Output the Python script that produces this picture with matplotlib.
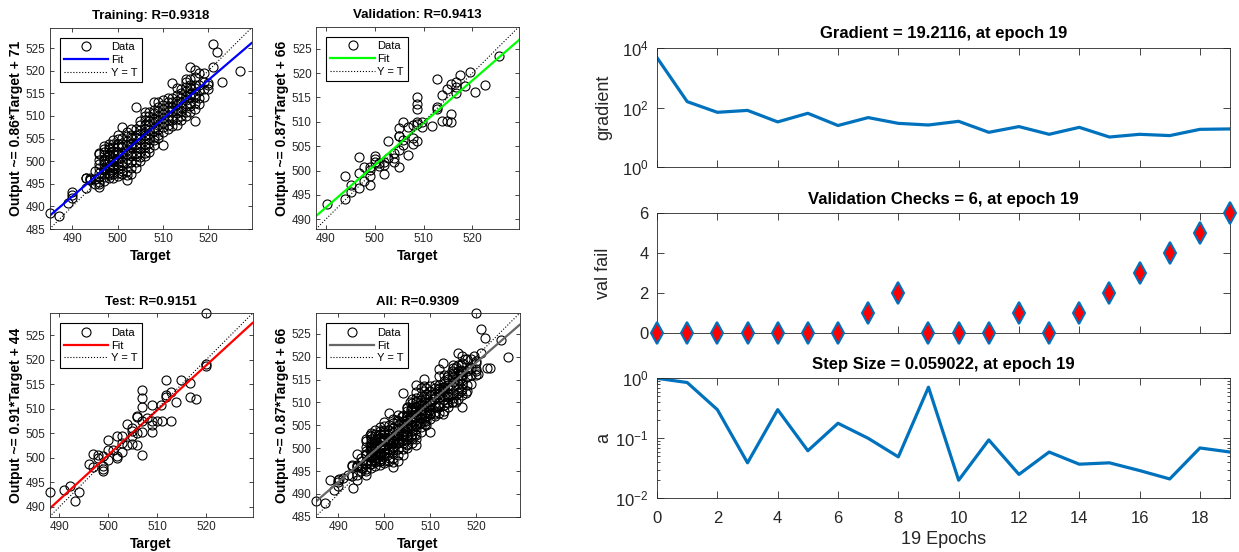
import numpy as np
import matplotlib
matplotlib.use('Agg')
import matplotlib.pyplot as plt
from matplotlib.ticker import LogLocator, NullFormatter, FixedLocator

plt.rcParams['font.family'] = ['Liberation Sans', 'DejaVu Sans']
plt.rcParams['mathtext.fontset'] = 'custom'
plt.rcParams['mathtext.rm'] = 'Liberation Sans'
plt.rcParams['mathtext.it'] = 'Liberation Sans:italic'
plt.rcParams['mathtext.bf'] = 'Liberation Sans:bold'

# ---- regression data ----
# training set: integer targets, outputs for each target
train_targets = [485, 487, 489, 490, 493, 494, 495, 496, 497, 498, 499, 500, 501, 502,
                 503, 504, 505, 506, 507, 508, 509, 510, 511, 512, 513, 514, 515, 516,
                 517, 518, 519, 520, 521, 522, 523, 527]
train_outputs = [
    [488.5],
    [487.9],
    [490.8],
    [491.8, 492.6, 493.1],
    [494.0, 496.2, 496.4],
    [495.8, 496.3, 496.0],
    [494.9, 496.1, 497.9],
    [494.2, 494.9, 495.4, 496.6, 497.3, 498.6, 499.4, 500.3, 501.6, 501.9],
    [495.7, 496.6, 497.1, 498.1, 498.5, 499.3, 500.1, 500.5, 501.4, 502.1, 502.7, 503.3],
    [496.2, 496.9, 497.4, 498.4, 498.9, 499.8, 500.3, 501.1, 501.7, 502.6, 503.1, 503.9],
    [496.4, 497.1, 497.7, 498.6, 499.1, 500.1, 500.7, 501.6, 502.2, 503.1, 503.8, 504.6],
    [496.7, 497.3, 498.3, 498.9, 499.9, 500.5, 501.5, 502.1, 503.1, 503.9, 504.9, 505.8],
    [497.1, 497.9, 499.1, 499.9, 501.1, 501.8, 503.1, 503.9, 505.1, 507.6],
    [495.8, 496.9, 497.9, 499.6, 500.4, 501.6, 502.4, 503.6, 504.4, 505.6, 506.4],
    [497.2, 498.6, 499.9, 501.1, 501.9, 503.1, 503.9, 505.1, 505.9, 507.2],
    [498.6, 499.9, 501.1, 501.9, 503.1, 503.8, 505.1, 505.9, 507.1, 512.0],
    [500.1, 500.9, 502.1, 502.9, 504.1, 504.9, 506.1, 506.9, 508.1, 508.9],
    [501.1, 501.9, 503.1, 503.9, 505.1, 505.9, 507.1, 507.9, 509.1, 509.9, 510.8],
    [502.1, 502.9, 504.1, 504.9, 506.1, 506.9, 508.1, 508.9, 510.1, 510.9],
    [503.5, 504.6, 505.4, 506.6, 507.4, 508.6, 509.4, 510.6, 511.4, 513.2],
    [505.1, 505.9, 507.1, 507.9, 509.1, 509.9, 511.1, 511.9, 513.1],
    [503.6, 506.4, 507.6, 508.4, 509.6, 510.4, 511.6, 512.4, 513.6],
    [507.1, 507.9, 509.1, 509.9, 511.1, 511.9, 513.1, 513.9],
    [507.8, 509.1, 509.9, 511.1, 511.9, 513.1, 513.9, 517.3],
    [508.1, 509.4, 510.6, 511.4, 512.6, 513.4, 514.6, 516.1],
    [509.1, 509.9, 511.1, 511.9, 513.1, 513.9, 515.1, 515.9],
    [510.1, 510.9, 512.1, 513.6, 514.4, 515.6, 516.4, 517.6, 518.2],
    [510.8, 512.1, 512.9, 514.1, 514.9, 516.1, 516.9, 518.1, 520.8],
    [509.0, 511.6, 512.9, 514.1, 514.9, 516.1, 516.9, 518.6, 520.1],
    [512.6, 513.9, 515.6, 516.9, 519.5],
    [514.1, 515.9, 517.6, 519.4],
    [516.0, 516.8, 517.3],
    [520.8, 526.0],
    [524.2],
    [517.6],
    [520.0],
]

val_t = [490.2, 494.0, 494.0, 495.1, 495.1, 496.9, 496.9, 496.9, 497.9, 497.9, 499.0, 499.0,
         499.0, 499.0, 500.0, 500.0, 500.0, 500.9, 500.9, 502.0, 502.0, 502.0, 502.8, 502.8,
         503.9, 503.9, 503.9, 504.9, 504.9, 504.9, 504.9, 504.9, 505.7, 505.7, 505.7, 506.8,
         506.8, 507.8, 507.8, 507.8, 508.7, 508.7, 508.7, 508.7, 508.7, 508.7, 509.7, 509.7,
         511.7, 512.7, 512.7, 512.7, 513.7, 513.7, 514.7, 514.7, 515.6, 515.6, 515.6, 516.7,
         516.7, 516.7, 517.5, 518.5, 519.5, 520.5, 522.5, 525.5]
val_y = [493.2, 498.8, 494.1, 497.1, 495.6, 502.8, 499.5, 496.5, 500.7, 497.8, 500.7, 498.8,
         497.1, 500.1, 503.0, 502.4, 501.7, 501.5, 500.9, 501.7, 499.2, 501.1, 506.1, 502.6,
         502.6, 501.7, 503.6, 508.7, 507.0, 504.3, 500.7, 507.1, 510.0, 506.3, 505.3, 509.0,
         503.2, 509.4, 506.6, 505.5, 515.1, 513.7, 512.6, 510.0, 509.5, 506.0, 510.0, 509.0,
         509.2, 518.7, 513.1, 512.7, 515.6, 510.2, 516.8, 510.2, 517.8, 511.6, 510.0, 518.2,
         517.2, 516.0, 519.6, 517.3, 520.2, 516.2, 517.6, 523.6]

test_t = [488.1, 491.0, 492.1, 493.1, 494.0, 496.0, 496.9, 496.9, 497.9, 497.9, 499.0, 499.0,
          499.0, 499.0, 500.0, 500.0, 500.0, 501.0, 501.8, 501.8, 501.8, 502.9, 502.9, 502.9,
          503.9, 503.9, 504.9, 504.9, 504.9, 504.9, 505.9, 505.9, 505.9, 505.9, 506.9, 506.9,
          506.9, 506.9, 506.9, 506.9, 507.9, 508.9, 508.9, 508.9, 508.9, 510.0, 510.8, 511.0,
          511.9, 511.9, 511.9, 512.8, 512.8, 513.9, 514.8, 516.8, 516.8, 517.9, 519.9, 519.9,
          519.9]
test_y = [493.0, 493.4, 494.2, 491.3, 493.0, 498.8, 500.7, 498.1, 500.5, 500.0, 500.3, 498.3,
          497.7, 497.3, 501.7, 499.5, 503.6, 501.7, 504.4, 500.3, 500.0, 504.5, 503.1, 501.3,
          507.0, 502.7, 506.1, 505.4, 504.4, 502.9, 508.6, 508.3, 505.1, 502.7, 513.8, 512.2,
          510.4, 507.5, 505.2, 500.6, 508.1, 510.7, 507.5, 505.3, 506.7, 507.5, 510.7, 507.5,
          515.8, 512.9, 512.4, 513.4, 507.5, 511.5, 515.9, 515.3, 512.5, 512.0, 519.1, 518.7,
          529.6]

# ---- training record ----
epochs = list(range(20))
gradient = [4630, 157, 69, 80, 33, 64, 25, 46, 29.5, 26, 34.5, 14.8, 23, 12.7, 21.7,
            10.3, 12.7, 11.5, 18.6, 19.2116]
val_fail = [0, 0, 0, 0, 0, 0, 0, 1, 2, 0, 0, 0, 1, 0, 1, 2, 3, 4, 5, 6]
step_size = [1.0, 0.85, 0.30, 0.039, 0.30, 0.062, 0.178, 0.10, 0.049, 0.71, 0.020, 0.094,
             0.025, 0.059, 0.037, 0.039, 0.029, 0.021, 0.069, 0.059022]

train_t = np.repeat(train_targets, [len(o) for o in train_outputs])
train_y = np.concatenate(train_outputs)
all_t = np.concatenate([train_t, val_t, test_t])
all_y = np.concatenate([train_y, val_y, test_y])

TXT = '#262626'
MBLUE = '#0072BD'

fig = plt.figure(figsize=(12.39, 5.52), dpi=100)


def regression_panel(rect, t, y, slope, icpt, color, title, ylabel, lim, yticks):
    ax = fig.add_axes(rect)
    ax.plot(t, y, 'o', mfc='none', mec='k', ms=6.5, mew=0.8, label='Data', clip_on=False)
    xs = np.array(lim)
    ax.plot(xs, slope * xs + icpt, color=color, lw=1.6, label='Fit')
    ax.plot(xs, xs, ':', color='k', lw=0.8, label='Y = T')
    ax.set_xlim(lim)
    ax.set_ylim(lim)
    ax.set_xticks([490, 500, 510, 520])
    ax.set_yticks(yticks)
    ax.tick_params(direction='in', length=3, width=0.6, top=True, right=True,
                   labelsize=8.5, colors=TXT, pad=3)
    for s in ax.spines.values():
        s.set_color(TXT)
        s.set_linewidth(0.6)
    ax.set_title(title, fontsize=9.5, fontweight='bold', pad=6)
    ax.set_xlabel('Target', fontsize=10, fontweight='bold', labelpad=3)
    ax.set_ylabel(ylabel, fontsize=10, fontweight='bold', labelpad=2)
    leg = ax.legend(loc='upper left', numpoints=1, fontsize=8, fancybox=False,
                    edgecolor='k', framealpha=1, handlelength=4, borderaxespad=0.9,
                    borderpad=0.4, labelspacing=0.25, handletextpad=0.2)
    leg.get_frame().set_linewidth(0.8)
    return ax


regression_panel([0.0400, 0.585, 0.1630, 0.3647], train_t, train_y, 0.858, 71.8, (0, 0, 1),
                 'Training: R=0.9318', 'Output ~= 0.86*Target + 71', (485, 529.5),
                 range(485, 530, 5))
regression_panel([0.2550, 0.585, 0.1638, 0.3665], val_t, val_y, 0.87, 66.1, (0, 1, 0),
                 'Validation: R=0.9413', 'Output ~= 0.87*Target + 66', (488, 529.5),
                 range(490, 530, 5))
regression_panel([0.0400, 0.0639, 0.1638, 0.3685], test_t, test_y, 0.913, 44.1, (1, 0, 0),
                 'Test: R=0.9151', 'Output ~= 0.91*Target + 44', (488, 529.5),
                 range(490, 530, 5))
regression_panel([0.2547, 0.0639, 0.1646, 0.3685], all_t, all_y, 0.87, 66.3, (0.4, 0.4, 0.4),
                 'All: R=0.9309', 'Output ~= 0.87*Target + 66', (485, 529.5),
                 range(485, 530, 5))


def record_axes(rect):
    ax = fig.add_axes(rect)
    ax.set_xlim(0, 19)
    ax.set_xticks(range(0, 19, 2))
    ax.tick_params(direction='in', length=5, width=0.6, top=True, right=True,
                   labelsize=12, colors=TXT, pad=6)
    ax.tick_params(axis='x', pad=9)
    ax.tick_params(which='minor', direction='in', length=2.5, width=0.5, right=True)
    for s in ax.spines.values():
        s.set_color(TXT)
        s.set_linewidth(0.6)
    return ax


ax = record_axes([0.5303, 0.6969, 0.4625, 0.2167])
ax.semilogy(epochs, gradient, color=MBLUE, lw=2.3)
ax.set_ylim(1, 1e4)
ax.yaxis.set_major_locator(FixedLocator([1, 1e2, 1e4]))
ax.yaxis.set_minor_locator(FixedLocator([]))
ax.tick_params(labelbottom=False)
ax.set_title('Gradient = 19.2116, at epoch 19', fontsize=12, fontweight='bold', pad=7)
ax.set_ylabel('gradient', fontsize=13, color=TXT)
ax.yaxis.set_label_coords(-0.079, 0.5)

ax = record_axes([0.5303, 0.3973, 0.4625, 0.2163])
ax.plot(epochs, val_fail, 'd', mfc='red', mec=MBLUE, ms=11, mew=1.5, ls='none', clip_on=False,
        zorder=3)
ax.set_ylim(0, 6)
ax.set_yticks([0, 2, 4, 6])
ax.tick_params(labelbottom=False)
ax.set_title('Validation Checks = 6, at epoch 19', fontsize=12, fontweight='bold', pad=7)
ax.set_ylabel('val fail', fontsize=13, color=TXT)
ax.yaxis.set_label_coords(-0.079, 0.5)

ax = record_axes([0.5303, 0.0973, 0.4625, 0.2174])
ax.semilogy(epochs, step_size, color=MBLUE, lw=2.3)
ax.set_ylim(1e-2, 1)
ax.yaxis.set_major_locator(FixedLocator([1e-2, 1e-1, 1]))
ax.yaxis.set_minor_locator(LogLocator(base=10, subs=np.arange(2, 10)))
ax.yaxis.set_minor_formatter(NullFormatter())
ax.set_title('Step Size = 0.059022, at epoch 19', fontsize=12, fontweight='bold', pad=7)
ax.set_ylabel('a', fontsize=13, color=TXT)
ax.yaxis.set_label_coords(-0.079, 0.5)
ax.set_xlabel('19 Epochs', fontsize=13, color=TXT, labelpad=4)

fig.savefig('out.png', dpi=100)
